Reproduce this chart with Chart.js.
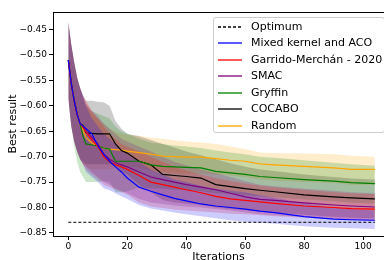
<!DOCTYPE html>
<html>
<head>
<meta charset="utf-8">
<script src="https://cdn.jsdelivr.net/npm/chart.js@4.4.1/dist/chart.umd.min.js"></script>
<style>
  html, body { margin: 0; padding: 0; background: #fff; }
  #wrap { position: relative; width: 384px; height: 260px; overflow: hidden; }
  #legend {
    position: absolute; left: 213px; top: 17px; width: 172px; height: 116px;
    background: rgba(255,255,255,0.8); border: 1px solid #cccccc; border-radius: 3px;
    font-family: "DejaVu Sans", sans-serif; font-size: 11px; color: #000;
    box-sizing: border-box;
  }
  .row { position: absolute; left: 4px; height: 16px; line-height: 16px; white-space: nowrap; }
  .row svg { position: absolute; left: 0; top: 6px; }
  .row span { position: absolute; left: 33px; top: 0; }
</style>
</head>
<body>
<div id="wrap">
  <canvas id="chart" width="384" height="260"></canvas>
  <div id="legend"></div>
</div>
<script>
// iteration grid the values were read at
const iterations = [0, 1, 2, 3, 4, 5, 6, 8, 10, 12, 14, 16, 18, 20, 24, 28, 32, 36, 40, 45, 50, 55, 60, 65, 70, 80, 90, 96, 104];

const xTicks = [0, 20, 40, 60, 80, 100];
const yTicks = [-0.85, -0.80, -0.75, -0.70, -0.65, -0.60, -0.55, -0.50, -0.45];

const optimumValue = -0.829;

const seriesNames = ['Mixed kernel and ACO', 'Garrido-Merchán - 2020', 'SMAC', 'Gryffin', 'COCABO', 'Random'];
const seriesColors = ['#0000ff', '#ff0000', '#800080', '#008000', '#000000', '#ffa500'];
const bandColors = ['rgba(0,0,255,0.2)', 'rgba(255,0,0,0.2)', 'rgba(128,0,128,0.2)', 'rgba(0,128,0,0.2)', 'rgba(0,0,0,0.2)', 'rgba(255,165,0,0.2)'];

// mean curves
const mixedMean = [-0.51, -0.556, -0.59, -0.617, -0.635, -0.64, -0.645, -0.655, -0.678, -0.695, -0.709, -0.72, -0.73, -0.742, -0.76, -0.768, -0.775, -0.782, -0.787, -0.793, -0.797, -0.800, -0.803, -0.807, -0.81, -0.818, -0.823, -0.824, -0.825];
const garridoMean = [-0.51, -0.556, -0.59, -0.617, -0.635, -0.642, -0.652, -0.667, -0.68, -0.70, -0.71, -0.716, -0.72, -0.725, -0.737, -0.75, -0.755, -0.76, -0.765, -0.771, -0.778, -0.783, -0.786, -0.789, -0.792, -0.797, -0.80, -0.802, -0.803];
const smacMean = [-0.51, -0.556, -0.59, -0.617, -0.635, -0.642, -0.65, -0.662, -0.675, -0.695, -0.705, -0.712, -0.716, -0.72, -0.73, -0.74, -0.745, -0.75, -0.755, -0.76, -0.765, -0.772, -0.779, -0.784, -0.786, -0.791, -0.795, -0.797, -0.799];
const gryffinMean = [-0.51, -0.556, -0.59, -0.617, -0.635, -0.66, -0.675, -0.677, -0.679, -0.683, -0.685, -0.709, -0.709, -0.709, -0.709, -0.716, -0.719, -0.72, -0.721, -0.722, -0.729, -0.732, -0.735, -0.739, -0.741, -0.745, -0.748, -0.751, -0.753];
const cocaboMean = [-0.51, -0.556, -0.59, -0.617, -0.635, -0.639, -0.653, -0.654, -0.655, -0.655, -0.655, -0.675, -0.688, -0.693, -0.709, -0.716, -0.735, -0.737, -0.739, -0.742, -0.755, -0.759, -0.763, -0.766, -0.769, -0.775, -0.779, -0.781, -0.783];
const randomMean = [-0.51, -0.556, -0.59, -0.617, -0.635, -0.649, -0.662, -0.673, -0.68, -0.683, -0.685, -0.686, -0.687, -0.689, -0.692, -0.695, -0.699, -0.70, -0.701, -0.701, -0.704, -0.707, -0.709, -0.714, -0.716, -0.719, -0.722, -0.725, -0.725];

// shaded band edges
const mixedUpper = [-0.435, -0.48, -0.515, -0.545, -0.565, -0.58, -0.60, -0.625, -0.64, -0.655, -0.665, -0.675, -0.685, -0.695, -0.71, -0.725, -0.735, -0.745, -0.75, -0.757, -0.763, -0.767, -0.77, -0.776, -0.781, -0.792, -0.80, -0.803, -0.806];
const mixedLower = [-0.585, -0.64, -0.67, -0.69, -0.705, -0.715, -0.73, -0.74, -0.75, -0.762, -0.766, -0.772, -0.778, -0.783, -0.795, -0.802, -0.806, -0.81, -0.813, -0.817, -0.821, -0.825, -0.828, -0.83, -0.832, -0.837, -0.84, -0.841, -0.842];
const garridoUpper = [-0.435, -0.48, -0.515, -0.545, -0.565, -0.58, -0.59, -0.61, -0.625, -0.64, -0.655, -0.665, -0.675, -0.68, -0.69, -0.70, -0.71, -0.72, -0.727, -0.735, -0.742, -0.748, -0.753, -0.757, -0.76, -0.765, -0.77, -0.772, -0.774];
const garridoLower = [-0.585, -0.64, -0.67, -0.69, -0.705, -0.715, -0.725, -0.735, -0.745, -0.755, -0.76, -0.765, -0.77, -0.775, -0.79, -0.798, -0.801, -0.804, -0.806, -0.808, -0.81, -0.812, -0.813, -0.815, -0.817, -0.82, -0.823, -0.825, -0.826];
const smacUpper = [-0.435, -0.48, -0.515, -0.545, -0.565, -0.58, -0.595, -0.61, -0.62, -0.635, -0.645, -0.655, -0.665, -0.67, -0.68, -0.69, -0.70, -0.71, -0.717, -0.725, -0.732, -0.74, -0.748, -0.755, -0.758, -0.763, -0.767, -0.77, -0.772];
const smacLower = [-0.585, -0.64, -0.67, -0.69, -0.705, -0.715, -0.72, -0.73, -0.74, -0.75, -0.755, -0.762, -0.767, -0.772, -0.783, -0.79, -0.793, -0.796, -0.798, -0.80, -0.803, -0.806, -0.81, -0.813, -0.815, -0.818, -0.822, -0.824, -0.826];
const gryffinUpper = [-0.435, -0.48, -0.515, -0.545, -0.565, -0.585, -0.60, -0.61, -0.615, -0.62, -0.625, -0.64, -0.65, -0.655, -0.665, -0.672, -0.675, -0.678, -0.68, -0.683, -0.688, -0.692, -0.695, -0.70, -0.702, -0.707, -0.712, -0.715, -0.718];
const gryffinLower = [-0.585, -0.64, -0.68, -0.71, -0.73, -0.74, -0.75, -0.75, -0.75, -0.748, -0.75, -0.77, -0.77, -0.768, -0.76, -0.762, -0.763, -0.765, -0.766, -0.768, -0.772, -0.774, -0.776, -0.778, -0.78, -0.784, -0.787, -0.79, -0.792];
const cocaboUpper = [-0.435, -0.48, -0.515, -0.545, -0.565, -0.58, -0.59, -0.59, -0.592, -0.593, -0.60, -0.63, -0.645, -0.655, -0.66, -0.667, -0.675, -0.682, -0.69, -0.697, -0.705, -0.713, -0.72, -0.725, -0.728, -0.735, -0.74, -0.743, -0.745];
const cocaboLower = [-0.585, -0.64, -0.67, -0.69, -0.705, -0.71, -0.715, -0.715, -0.715, -0.715, -0.715, -0.72, -0.73, -0.735, -0.755, -0.77, -0.785, -0.79, -0.792, -0.795, -0.80, -0.803, -0.805, -0.808, -0.81, -0.814, -0.818, -0.82, -0.821];
const randomUpper = [-0.435, -0.48, -0.515, -0.545, -0.565, -0.585, -0.60, -0.615, -0.625, -0.635, -0.645, -0.65, -0.655, -0.657, -0.659, -0.663, -0.665, -0.668, -0.67, -0.672, -0.675, -0.68, -0.685, -0.692, -0.693, -0.694, -0.695, -0.698, -0.70];
const randomLower = [-0.585, -0.64, -0.67, -0.69, -0.705, -0.715, -0.72, -0.725, -0.725, -0.725, -0.725, -0.722, -0.72, -0.72, -0.722, -0.727, -0.73, -0.732, -0.733, -0.733, -0.735, -0.737, -0.74, -0.745, -0.747, -0.75, -0.752, -0.755, -0.755];

const means = [mixedMean, garridoMean, smacMean, gryffinMean, cocaboMean, randomMean];
const uppers = [mixedUpper, garridoUpper, smacUpper, gryffinUpper, cocaboUpper, randomUpper];
const lowers = [mixedLower, garridoLower, smacLower, gryffinLower, cocaboLower, randomLower];

const toPoints = (arr) => iterations.map((x, i) => ({ x: x, y: arr[i] }));

const datasets = [];

// bands first: upper fills down to the following lower dataset
seriesNames.forEach((name, i) => {
  datasets.push({
    label: name + ' upper',
    data: toPoints(uppers[i]),
    borderWidth: 0,
    pointRadius: 0,
    backgroundColor: bandColors[i],
    fill: '+1'
  });
  datasets.push({
    label: name + ' lower',
    data: toPoints(lowers[i]),
    borderWidth: 0,
    pointRadius: 0,
    fill: false
  });
});

datasets.push({
  label: 'Optimum',
  data: [{ x: iterations[0], y: optimumValue }, { x: iterations[iterations.length - 1], y: optimumValue }],
  borderColor: '#000',
  borderWidth: 1,
  borderDash: [3, 2],
  pointRadius: 0,
  fill: false
});

seriesNames.forEach((name, i) => {
  datasets.push({
    label: name,
    data: toPoints(means[i]),
    borderColor: seriesColors[i],
    borderWidth: 1.2,
    pointRadius: 0,
    tension: 0,
    fill: false
  });
});

// matplotlib-style top spine
const topSpine = {
  id: 'topSpine',
  afterDraw(chart) {
    const { ctx, chartArea } = chart;
    ctx.save();
    ctx.strokeStyle = '#000';
    ctx.lineWidth = 1;
    ctx.beginPath();
    ctx.moveTo(chartArea.left, chartArea.top + 0.5);
    ctx.lineTo(chartArea.right, chartArea.top + 0.5);
    ctx.stroke();
    ctx.restore();
  }
};

const tickFont = { family: 'DejaVu Sans', size: 9 };
const titleFont = { family: 'DejaVu Sans', size: 11, lineHeight: 1 };

new Chart(document.getElementById('chart').getContext('2d'), {
  type: 'line',
  data: { datasets: datasets },
  options: {
    responsive: false,
    animation: false,
    events: [],
    layout: { padding: { top: 12, right: 0, left: 0, bottom: 0 } },
    scales: {
      x: {
        type: 'linear',
        min: -5.2,
        max: 107.1,
        afterBuildTicks: (axis) => { axis.ticks = xTicks.map(v => ({ value: v })); },
        afterFit: (scale) => { scale.height = 24; },
        ticks: { font: tickFont, color: '#000', padding: 1, maxRotation: 0 },
        grid: { display: true, drawOnChartArea: false, drawTicks: true, tickLength: 4, color: '#000' },
        border: { display: true, color: '#000', width: 1 },
        title: { display: true, text: 'Iterations', font: titleFont, color: '#000', padding: { top: 0, bottom: -2.5 } }
      },
      y: {
        type: 'linear',
        min: -0.856,
        max: -0.4155,
        afterBuildTicks: (axis) => { axis.ticks = yTicks.map(v => ({ value: v })); },
        afterFit: (scale) => { scale.width = 53; },
        ticks: {
          font: tickFont,
          color: '#000',
          padding: 2,
          callback: (v) => '\u2212' + Math.abs(v).toFixed(2)
        },
        grid: { display: true, drawOnChartArea: false, drawTicks: true, tickLength: 4, color: '#000' },
        border: { display: true, color: '#000', width: 1 },
        title: { display: true, text: 'Best result', font: titleFont, color: '#000', padding: { top: 7.5, bottom: 0 } }
      }
    },
    plugins: {
      legend: { display: false },
      tooltip: { enabled: false },
      filler: { drawTime: 'beforeDatasetsDraw' }
    }
  },
  plugins: [topSpine]
});

// legend drawn as html over the plot, top right
const legendEl = document.getElementById('legend');
const legendNames = ['Optimum'].concat(seriesNames);
const legendColors = ['#000'].concat(seriesColors);
legendNames.forEach((name, i) => {
  const row = document.createElement('div');
  row.className = 'row';
  row.style.top = (0.5 + i * 16.5) + 'px';
  const dash = i === 0 ? ' stroke-dasharray="3,2"' : '';
  row.innerHTML = '<svg width="24" height="4"><line x1="0" y1="2" x2="24" y2="2" stroke="' +
    legendColors[i] + '" stroke-width="1.3"' + dash + '/></svg><span>' + name + '</span>';
  legendEl.appendChild(row);
});
</script>
</body>
</html>
